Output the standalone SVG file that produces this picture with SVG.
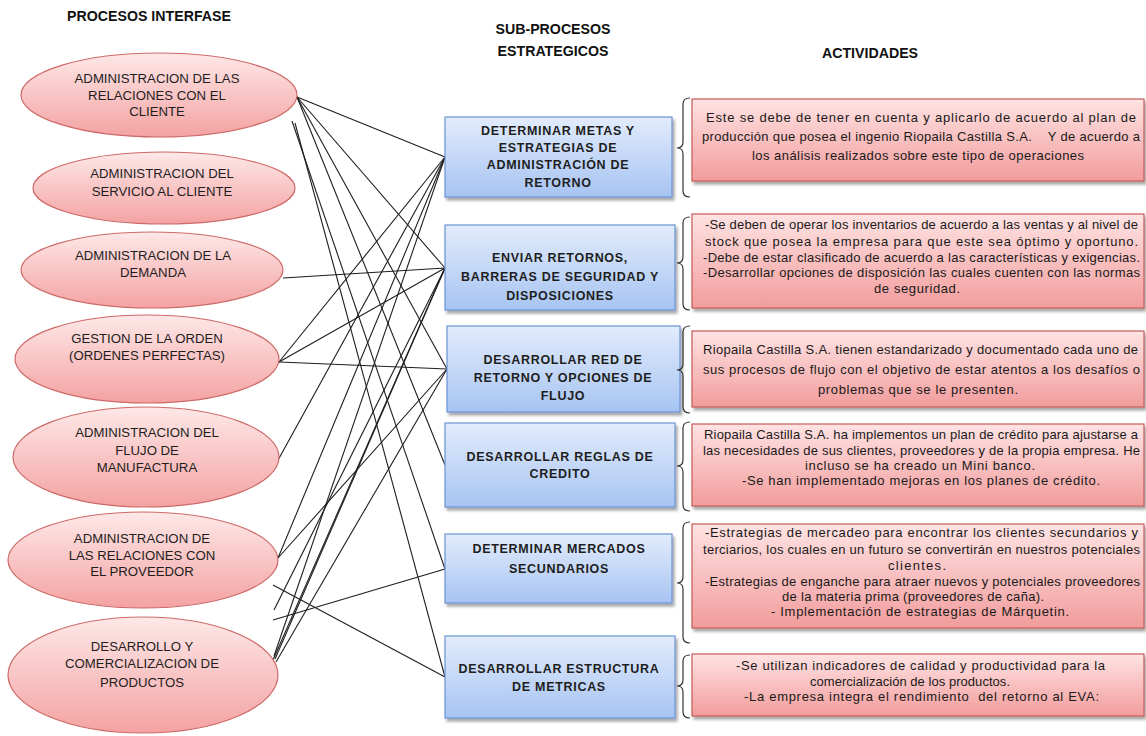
<svg xmlns="http://www.w3.org/2000/svg" width="1146" height="736" viewBox="0 0 1146 736">
  <defs>
    <linearGradient id="gEll" x1="0" y1="0" x2="0" y2="1">
      <stop offset="0" stop-color="#fee8e8"/>
      <stop offset="1" stop-color="#f4a2a2"/>
    </linearGradient>
    <linearGradient id="gBlue" x1="0" y1="0" x2="0" y2="1">
      <stop offset="0" stop-color="#e2ecfc"/>
      <stop offset="1" stop-color="#a7c4f2"/>
    </linearGradient>
    <linearGradient id="gRed" x1="0" y1="0" x2="0" y2="1">
      <stop offset="0" stop-color="#ffe3e3"/>
      <stop offset="1" stop-color="#f29c9c"/>
    </linearGradient>
    <filter id="shadow" x="-5%" y="-10%" width="115%" height="130%">
      <feDropShadow dx="2" dy="3" stdDeviation="1.6" flood-color="#000" flood-opacity="0.35"/>
    </filter>
    <style>
      .head { font-family: "Liberation Sans", Arial, sans-serif; font-weight: bold; font-size: 14.2px; fill: #111; text-anchor: middle; }
      .ell { fill: url(#gEll); stroke: #cd6a68; stroke-width: 1.2; }
      .etx { font-family: "Liberation Sans", Arial, sans-serif; font-size: 13.2px; fill: #1e1e1e; text-anchor: middle; }
      .box { fill: url(#gBlue); stroke: #6a93d4; stroke-width: 1.2; filter: url(#shadow); }
      .btx { font-family: "Liberation Sans", Arial, sans-serif; font-weight: bold; font-size: 12.5px; letter-spacing: 0.7px; fill: #1e1e1e; text-anchor: middle; }
      .act { fill: url(#gRed); stroke: #c45a57; stroke-width: 1.2; filter: url(#shadow); }
      .atx { font-family: "Liberation Sans", Arial, sans-serif; font-size: 13px; fill: #1a1a1a; }
      .brace { fill: none; stroke: #333; stroke-width: 1.2; }
      .link { stroke: #1e1e1e; stroke-width: 1.1; fill: none; }
    </style>
  </defs>

  <rect width="1146" height="736" fill="#ffffff"/>

  <!-- column headings -->
  <g id="headings">
    <text class="head" x="149" y="21">PROCESOS INTERFASE</text>
    <text class="head" x="553" y="34">SUB-PROCESOS</text>
    <text class="head" x="553" y="56">ESTRATEGICOS</text>
    <text class="head" x="870" y="58">ACTIVIDADES</text>
  </g>

  <!-- connectors between interface processes and strategic sub-processes -->
  <g id="connectors">
    <line class="link" x1="297" y1="97" x2="445" y2="157"/>
    <line class="link" x1="297" y1="97" x2="445" y2="268"/>
    <line class="link" x1="297" y1="97" x2="447" y2="369"/>
    <line class="link" x1="297" y1="97" x2="445" y2="465"/>
    <line class="link" x1="292" y1="121" x2="445" y2="569"/>
    <line class="link" x1="295" y1="123" x2="445" y2="677"/>
    <line class="link" x1="283" y1="278" x2="445" y2="268"/>
    <line class="link" x1="279" y1="362" x2="445" y2="157"/>
    <line class="link" x1="279" y1="362" x2="445" y2="268"/>
    <line class="link" x1="279" y1="362" x2="447" y2="369"/>
    <line class="link" x1="277" y1="462" x2="445" y2="157"/>
    <line class="link" x1="278" y1="558" x2="445" y2="157"/>
    <line class="link" x1="278" y1="558" x2="447" y2="369"/>
    <line class="link" x1="273" y1="585" x2="445" y2="677"/>
    <line class="link" x1="274" y1="610" x2="445" y2="268"/>
    <line class="link" x1="273" y1="620" x2="445" y2="569"/>
    <line class="link" x1="274" y1="656" x2="445" y2="157"/>
    <line class="link" x1="275" y1="659" x2="445" y2="268"/>
    <line class="link" x1="276" y1="662" x2="447" y2="369"/>
    <line class="link" x1="273" y1="660" x2="445" y2="268"/>
  </g>

  <!-- interface processes -->
  <g id="p-clientes">
    <ellipse class="ell" cx="159" cy="95" rx="138" ry="42"/>
    <text class="etx" x="157" y="83">ADMINISTRACION DE LAS</text>
    <text class="etx" x="157" y="100">RELACIONES CON EL</text>
    <text class="etx" x="157" y="116">CLIENTE</text>
  </g>
  <g id="p-servicio">
    <ellipse class="ell" cx="164" cy="188" rx="131" ry="36"/>
    <text class="etx" x="162" y="178">ADMINISTRACION DEL</text>
    <text class="etx" x="162" y="196">SERVICIO AL CLIENTE</text>
  </g>
  <g id="p-demanda">
    <ellipse class="ell" cx="152" cy="270" rx="131" ry="38"/>
    <text class="etx" x="153" y="260">ADMINISTRACION DE LA</text>
    <text class="etx" x="153" y="277">DEMANDA</text>
  </g>
  <g id="p-orden">
    <ellipse class="ell" cx="147" cy="359" rx="132" ry="44"/>
    <text class="etx" x="147" y="343">GESTION DE LA ORDEN</text>
    <text class="etx" x="147" y="360">(ORDENES PERFECTAS)</text>
  </g>
  <g id="p-manufactura">
    <ellipse class="ell" cx="146" cy="457" rx="133" ry="50"/>
    <text class="etx" x="147" y="437">ADMINISTRACION DEL</text>
    <text class="etx" x="147" y="455">FLUJO DE</text>
    <text class="etx" x="147" y="472">MANUFACTURA</text>
  </g>
  <g id="p-proveedor">
    <ellipse class="ell" cx="143" cy="560" rx="135" ry="48"/>
    <text class="etx" x="142" y="543">ADMINISTRACION DE</text>
    <text class="etx" x="142" y="560">LAS RELACIONES CON</text>
    <text class="etx" x="142" y="576">EL PROVEEDOR</text>
  </g>
  <g id="p-productos">
    <ellipse class="ell" cx="143" cy="675" rx="135" ry="58"/>
    <text class="etx" x="142" y="651">DESARROLLO Y</text>
    <text class="etx" x="142" y="668">COMERCIALIZACION DE</text>
    <text class="etx" x="142" y="687">PRODUCTOS</text>
  </g>

  <!-- strategic sub-processes -->
  <g id="s-metas">
    <rect class="box" x="445" y="117" width="227" height="80"/>
    <text class="btx" x="558" y="135">DETERMINAR METAS Y</text>
    <text class="btx" x="558" y="152">ESTRATEGIAS DE</text>
    <text class="btx" x="558" y="169">ADMINISTRACIÓN DE</text>
    <text class="btx" x="558" y="187">RETORNO</text>
  </g>
  <g id="s-enviar">
    <rect class="box" x="445" y="225" width="230" height="85"/>
    <text class="btx" x="560" y="262">ENVIAR RETORNOS,</text>
    <text class="btx" x="560" y="281">BARRERAS DE SEGURIDAD Y</text>
    <text class="btx" x="560" y="300">DISPOSICIONES</text>
  </g>
  <g id="s-red">
    <rect class="box" x="447" y="326" width="233" height="86"/>
    <text class="btx" x="563" y="364">DESARROLLAR RED DE</text>
    <text class="btx" x="563" y="382">RETORNO Y OPCIONES DE</text>
    <text class="btx" x="563" y="400">FLUJO</text>
  </g>
  <g id="s-credito">
    <rect class="box" x="445" y="423" width="230" height="84"/>
    <text class="btx" x="560" y="461">DESARROLLAR REGLAS DE</text>
    <text class="btx" x="560" y="478">CREDITO</text>
  </g>
  <g id="s-mercados">
    <rect class="box" x="445" y="534" width="227" height="69"/>
    <text class="btx" x="559" y="553">DETERMINAR MERCADOS</text>
    <text class="btx" x="559" y="573">SECUNDARIOS</text>
  </g>
  <g id="s-metricas">
    <rect class="box" x="445" y="636" width="230" height="82"/>
    <text class="btx" x="559" y="673">DESARROLLAR ESTRUCTURA</text>
    <text class="btx" x="559" y="691">DE METRICAS</text>
  </g>

  <!-- braces grouping each sub-process with its activities -->
  <g id="braces">
    <path class="brace" d="M690,98 Q683,98 683,104 L683,142 Q683,148 677,148 Q683,148 683,154 L683,191 Q683,197 690,197"/>
    <path class="brace" d="M690,217 Q683,217 683,223 L683,257 Q683,263 677,263 Q683,263 683,269 L683,304 Q683,310 690,310"/>
    <path class="brace" d="M690,326 Q683,326 683,332 L683,364 Q683,370 677,370 Q683,370 683,376 L683,407 Q683,413 690,413"/>
    <path class="brace" d="M690,422 Q683,422 683,428 L683,460 Q683,466 677,466 Q683,466 683,472 L683,505 Q683,511 690,511"/>
    <path class="brace" d="M690,522 Q683,522 683,528 L683,577 Q683,583 677,583 Q683,583 683,589 L683,637 Q683,643 690,643"/>
    <path class="brace" d="M690,655 Q683,655 683,661 L683,680 Q683,686 677,686 Q683,686 683,692 L683,712 Q683,718 690,718"/>
  </g>

  <!-- activities -->
  <g id="a-metas">
    <rect class="act" x="692" y="99" width="452" height="82"/>
    <text class="atx" x="706" y="122" textLength="430" lengthAdjust="spacing">Este se debe de tener en cuenta y aplicarlo de acuerdo al plan de</text>
    <text class="atx" x="702" y="141" textLength="438" lengthAdjust="spacing">producción que posea el ingenio Riopaila Castilla S.A.&#160;&#160;&#160; Y de acuerdo a</text>
    <text class="atx" x="752" y="160" textLength="332" lengthAdjust="spacing">los análisis realizados sobre este tipo de operaciones</text>
  </g>
  <g id="a-enviar">
    <rect class="act" x="692" y="214" width="452" height="94"/>
    <text class="atx" x="705" y="229" textLength="433" lengthAdjust="spacing">-Se deben de operar los inventarios de acuerdo a las ventas y al nivel de</text>
    <text class="atx" x="705" y="246" textLength="433" lengthAdjust="spacing">stock que posea la empresa para que este sea óptimo y oportuno.</text>
    <text class="atx" x="703" y="262" textLength="437" lengthAdjust="spacing">-Debe de estar clasificado de acuerdo a las características y exigencias.</text>
    <text class="atx" x="703" y="277" textLength="437" lengthAdjust="spacing">-Desarrollar opciones de disposición las cuales cuenten con las normas</text>
    <text class="atx" x="874" y="293" textLength="86" lengthAdjust="spacing">de seguridad.</text>
  </g>
  <g id="a-red">
    <rect class="act" x="692" y="331" width="452" height="76"/>
    <text class="atx" x="703" y="354" textLength="435" lengthAdjust="spacing">Riopaila Castilla S.A. tienen estandarizado y documentado cada uno de</text>
    <text class="atx" x="703" y="374" textLength="437" lengthAdjust="spacing">sus procesos de flujo con el objetivo de estar atentos a los desafíos o</text>
    <text class="atx" x="818" y="394" textLength="200" lengthAdjust="spacing">problemas que se le presenten.</text>
  </g>
  <g id="a-credito">
    <rect class="act" x="692" y="424" width="452" height="82"/>
    <text class="atx" x="704" y="439" textLength="434" lengthAdjust="spacing">Riopaila Castilla S.A. ha implementos un plan de crédito para ajustarse a</text>
    <text class="atx" x="703" y="455" textLength="437" lengthAdjust="spacing">las necesidades de sus clientes, proveedores y de la propia empresa. He</text>
    <text class="atx" x="805" y="470" textLength="230" lengthAdjust="spacing">incluso se ha creado un Mini banco.</text>
    <text class="atx" x="742" y="485" textLength="358" lengthAdjust="spacing">-Se han implementado mejoras en los planes de crédito.</text>
  </g>
  <g id="a-mercados">
    <rect class="act" x="692" y="524" width="452" height="104"/>
    <text class="atx" x="705" y="537" textLength="433" lengthAdjust="spacing">-Estrategias de mercadeo para encontrar los clientes secundarios y</text>
    <text class="atx" x="703" y="554" textLength="437" lengthAdjust="spacing">terciarios, los cuales en un futuro se convertirán en nuestros potenciales</text>
    <text class="atx" x="888" y="570" textLength="58" lengthAdjust="spacing">clientes.</text>
    <text class="atx" x="705" y="586" textLength="435" lengthAdjust="spacing">-Estrategias de enganche para atraer nuevos y potenciales proveedores</text>
    <text class="atx" x="782" y="601" textLength="262" lengthAdjust="spacing">de la materia prima (proveedores de caña).</text>
    <text class="atx" x="771" y="616" textLength="298" lengthAdjust="spacing">- Implementación de estrategias de Márquetin.</text>
  </g>
  <g id="a-metricas">
    <rect class="act" x="692" y="654" width="452" height="62"/>
    <text class="atx" x="736" y="670" textLength="369" lengthAdjust="spacing">-Se utilizan indicadores de calidad y productividad para la</text>
    <text class="atx" x="810" y="686" textLength="200" lengthAdjust="spacing">comercialización de los productos.</text>
    <text class="atx" x="744" y="701" textLength="355" lengthAdjust="spacing">-La empresa integra el rendimiento&#160; del retorno al EVA:</text>
  </g>
</svg>
